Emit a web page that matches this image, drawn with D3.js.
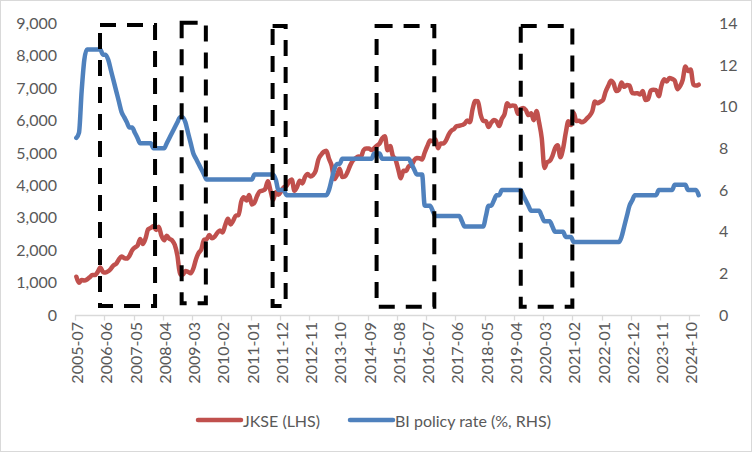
<!DOCTYPE html>
<html>
<head>
<meta charset="utf-8">
<script src="https://cdn.jsdelivr.net/npm/d3@7"></script>
<style>
  html, body { margin: 0; padding: 0; background: #fff; }
  svg { display: block; font-family: Lato, "Open Sans", sans-serif; }
</style>
</head>
<body>
<svg id="chart" width="752" height="452"></svg>
<script>
// ---------------- DATA ----------------
const startMonth = "2005-07";
const monthCount = 235; // 2005-07 .. 2025-01

const jkse2005 = [1182, 994, 1079, 1066, 1097, 1163];
const jkse2006 = [1232, 1231, 1323, 1465, 1330, 1310, 1351, 1431, 1534, 1582, 1718, 1806];
const jkse2007 = [1758, 1741, 1830, 1999, 2084, 2139, 2349, 2194, 2359, 2643, 2688, 2746];
const jkse2008 = [2627, 2721, 2447, 2305, 2444, 2350, 2304, 2166, 1833, 1257, 1242, 1355];
const jkse2009 = [1333, 1285, 1434, 1723, 1917, 2027, 2323, 2342, 2468, 2368, 2416, 2534];
const jkse2010 = [2611, 2549, 2778, 2971, 2797, 2914, 3069, 3082, 3501, 3635, 3531, 3704];
const jkse2011 = [3410, 3471, 3679, 3820, 3837, 3889, 4131, 3842, 3549, 3791, 3715, 3822];
const jkse2012 = [3942, 3985, 4122, 4181, 3833, 3956, 4143, 4060, 4263, 4350, 4276, 4317];
const jkse2013 = [4454, 4796, 4941, 5034, 5069, 4819, 4610, 4195, 4316, 4511, 4256, 4274];
const jkse2014 = [4419, 4620, 4768, 4840, 4894, 4879, 5089, 5137, 5138, 5089, 5150, 5227];
const jkse2015 = [5289, 5450, 5519, 5086, 5216, 4911, 4803, 4510, 4224, 4455, 4446, 4593];
const jkse2016 = [4615, 4771, 4845, 4839, 4797, 5017, 5216, 5386, 5365, 5423, 5149, 5297];
const jkse2017 = [5294, 5387, 5568, 5685, 5738, 5830, 5841, 5864, 5901, 6006, 5952, 6356];
const jkse2018 = [6606, 6597, 6189, 5995, 5984, 5799, 5936, 6018, 5977, 5832, 6056, 6194];
const jkse2019 = [6533, 6443, 6469, 6455, 6209, 6359, 6391, 6328, 6169, 6228, 6012, 6300];
const jkse2020 = [5940, 5453, 4539, 4716, 4754, 4905, 5150, 5238, 4870, 5128, 5612, 5979];
const jkse2021 = [5862, 6242, 5986, 5996, 5947, 5985, 6070, 6150, 6287, 6592, 6534, 6581];
const jkse2022 = [6631, 6888, 7071, 7229, 7149, 6912, 6951, 7179, 7041, 7099, 7081, 6851];
const jkse2023 = [6839, 6843, 6805, 6916, 6633, 6662, 6931, 6953, 6940, 6752, 7081, 7273];
const jkse2024 = [7208, 7316, 7288, 7234, 6971, 7064, 7256, 7671, 7528, 7575, 7114, 7080];
const jkse2025 = [7109];

const bi2005 = [8.5, 8.75, 10.75, 12.25, 12.75, 12.75];
const bi2006 = [12.75, 12.75, 12.75, 12.75, 12.5, 12.5, 12.25, 11.75, 11.25, 10.75, 10.25, 9.75];
const bi2007 = [9.5, 9.25, 9.0, 9.0, 8.75, 8.5, 8.25, 8.25, 8.25, 8.25, 8.25, 8.0];
const bi2008 = [8.0, 8.0, 8.0, 8.0, 8.25, 8.5, 8.75, 9.0, 9.25, 9.5, 9.5, 9.25];
const bi2009 = [8.75, 8.25, 7.75, 7.5, 7.25, 7.0, 6.75, 6.5, 6.5, 6.5, 6.5, 6.5];
const bi2010 = [6.5, 6.5, 6.5, 6.5, 6.5, 6.5, 6.5, 6.5, 6.5, 6.5, 6.5, 6.5];
const bi2011 = [6.5, 6.75, 6.75, 6.75, 6.75, 6.75, 6.75, 6.75, 6.75, 6.5, 6.0, 6.0];
const bi2012 = [6.0, 5.75, 5.75, 5.75, 5.75, 5.75, 5.75, 5.75, 5.75, 5.75, 5.75, 5.75];
const bi2013 = [5.75, 5.75, 5.75, 5.75, 5.75, 6.0, 6.5, 7.0, 7.25, 7.25, 7.5, 7.5];
const bi2014 = [7.5, 7.5, 7.5, 7.5, 7.5, 7.5, 7.5, 7.5, 7.5, 7.5, 7.75, 7.75];
const bi2015 = [7.75, 7.5, 7.5, 7.5, 7.5, 7.5, 7.5, 7.5, 7.5, 7.5, 7.5, 7.5];
const bi2016 = [7.25, 7.0, 6.75, 6.75, 6.75, 5.25, 5.25, 5.25, 5.0, 4.75, 4.75, 4.75];
const bi2017 = [4.75, 4.75, 4.75, 4.75, 4.75, 4.75, 4.75, 4.5, 4.25, 4.25, 4.25, 4.25];
const bi2018 = [4.25, 4.25, 4.25, 4.25, 4.75, 5.25, 5.25, 5.5, 5.75, 5.75, 6.0, 6.0];
const bi2019 = [6.0, 6.0, 6.0, 6.0, 6.0, 6.0, 5.75, 5.5, 5.25, 5.0, 5.0, 5.0];
const bi2020 = [5.0, 4.75, 4.5, 4.5, 4.5, 4.25, 4.0, 4.0, 4.0, 4.0, 3.75, 3.75];
const bi2021 = [3.75, 3.5, 3.5, 3.5, 3.5, 3.5, 3.5, 3.5, 3.5, 3.5, 3.5, 3.5];
const bi2022 = [3.5, 3.5, 3.5, 3.5, 3.5, 3.5, 3.5, 3.75, 4.25, 4.75, 5.25, 5.5];
const bi2023 = [5.75, 5.75, 5.75, 5.75, 5.75, 5.75, 5.75, 5.75, 5.75, 6.0, 6.0, 6.0];
const bi2024 = [6.0, 6.0, 6.0, 6.25, 6.25, 6.25, 6.25, 6.25, 6.0, 6.0, 6.0, 6.0];
const bi2025 = [5.75];

const tickLabels = ["2005-07","2006-06","2007-05","2008-04","2009-03","2010-02","2011-01",
  "2011-12","2012-11","2013-10","2014-09","2015-08","2016-07","2017-06","2018-05","2019-04",
  "2020-03","2021-02","2022-01","2022-12","2023-11","2024-10"];
const leftTicks = [0, 1000, 2000, 3000, 4000, 5000, 6000, 7000, 8000, 9000];
const rightTicks = [0, 2, 4, 6, 8, 10, 12, 14];
const seriesNames = ["JKSE (LHS)", "BI policy rate (%, RHS)"];

// highlighted periods (month index from start, JKSE-axis value range)
const boxStart = [8.9, 39.6, 73.8, 112.9, 167.1];
const boxEnd   = [29.6, 48.7, 78.7, 134.6, 186.5];
const boxTop   = [8950, 9020, 8920, 8920, 8920];
const boxBottom= [280, 360, 280, 255, 255];

// ---------------- BUILD ----------------
const jkse = [].concat(jkse2005, jkse2006, jkse2007, jkse2008, jkse2009, jkse2010, jkse2011,
  jkse2012, jkse2013, jkse2014, jkse2015, jkse2016, jkse2017, jkse2018, jkse2019, jkse2020,
  jkse2021, jkse2022, jkse2023, jkse2024, jkse2025);
const bi = [].concat(bi2005, bi2006, bi2007, bi2008, bi2009, bi2010, bi2011, bi2012, bi2013,
  bi2014, bi2015, bi2016, bi2017, bi2018, bi2019, bi2020, bi2021, bi2022, bi2023, bi2024, bi2025);

const parse = d3.timeParse("%Y-%m");
const fmt = d3.timeFormat("%Y-%m");
const months = d3.timeMonth.range(parse(startMonth), d3.timeMonth.offset(parse(startMonth), monthCount)).map(fmt);

const svg = d3.select("#chart");
const W = 752, H = 452;
const plot = { left: 75, right: 700, top: 23.4, bottom: 315 };
const textColor = "#595959";
const red = "#C0504D", blue = "#4F81BD";

svg.append("rect").attr("x", 0.5).attr("y", 0.5).attr("width", W - 1).attr("height", H - 1)
  .attr("fill", "#fff").attr("stroke", "#D9D9D9");

const n = months.length;
const x = d3.scaleLinear().domain([-0.5, n - 0.5]).range([plot.left, plot.right]);
const yL = d3.scaleLinear().domain([0, 9000]).range([plot.bottom, plot.top]);
const yR = d3.scaleLinear().domain([0, 14]).range([plot.bottom, plot.top]);

// left axis labels
const leftAxis = d3.axisLeft(yL).tickValues(leftTicks).tickSize(0).tickPadding(0)
  .tickFormat(d3.format(","));
svg.append("g").attr("transform", `translate(57,0)`).call(leftAxis)
  .call(g => g.select(".domain").remove())
  .selectAll("text").attr("fill", textColor).attr("font-size", 16)
  .attr("font-family", "Lato, sans-serif");

// right axis labels
const rightAxis = d3.axisRight(yR).tickValues(rightTicks).tickSize(0).tickPadding(0);
svg.append("g").attr("transform", `translate(719,0)`).call(rightAxis)
  .call(g => g.select(".domain").remove())
  .selectAll("text").attr("fill", textColor).attr("font-size", 16)
  .attr("font-family", "Lato, sans-serif");

// bottom axis
const tickIdx = tickLabels.map(l => months.indexOf(l));
const xg = svg.append("g");
xg.append("line").attr("x1", x(-0.5)).attr("x2", x(n - 0.5))
  .attr("y1", plot.bottom + 0.5).attr("y2", plot.bottom + 0.5)
  .attr("stroke", "#D9D9D9").attr("stroke-width", 1.3);
xg.selectAll("line.tick").data(tickIdx).join("line").attr("class", "tick")
  .attr("x1", d => Math.round(x(d - 0.5)) + 0.5).attr("x2", d => Math.round(x(d - 0.5)) + 0.5)
  .attr("y1", plot.bottom).attr("y2", plot.bottom + 5.5)
  .attr("stroke", "#D9D9D9").attr("stroke-width", 1.3);
xg.selectAll("text").data(tickIdx).join("text")
  .attr("transform", d => `translate(${x(d - 0.5) + 1.5},322) rotate(-90)`)
  .attr("text-anchor", "end").attr("dominant-baseline", "central")
  .attr("fill", textColor).attr("font-size", 16)
  .text(d => months[d]);

// lines
const lineL = d3.line().x((d, i) => x(i)).y(d => yL(d)).curve(d3.curveMonotoneX);
const lineR = d3.line().x((d, i) => x(i)).y(d => yR(d)).curve(d3.curveMonotoneX);
svg.append("path").datum(jkse).attr("d", lineL).attr("fill", "none")
  .attr("stroke", red).attr("stroke-width", 4.5).attr("stroke-linejoin", "round").attr("stroke-linecap", "round");
svg.append("path").datum(bi).attr("d", lineR).attr("fill", "none")
  .attr("stroke", blue).attr("stroke-width", 4.5).attr("stroke-linejoin", "round").attr("stroke-linecap", "round");

// dashed boxes
const boxes = boxStart.map((s, i) => ({ s, e: boxEnd[i], t: boxTop[i], b: boxBottom[i] }));
svg.selectAll("rect.box").data(boxes).join("rect").attr("class", "box")
  .attr("x", d => x(d.s)).attr("y", d => yL(d.t))
  .attr("width", d => x(d.e) - x(d.s)).attr("height", d => yL(d.b) - yL(d.t))
  .attr("fill", "none").attr("stroke", "#000").attr("stroke-width", 4)
  .attr("stroke-dasharray", "16 11");

// legend
const legend = svg.append("g");
const legItems = [
  { name: seriesNames[0], color: red, x: 198 },
  { name: seriesNames[1], color: blue, x: 350 }
];
legItems.forEach(it => {
  legend.append("line").attr("x1", it.x).attr("x2", it.x + 43).attr("y1", 420).attr("y2", 420)
    .attr("stroke", it.color).attr("stroke-width", 4.5).attr("stroke-linecap", "round");
  legend.append("text").attr("x", it.x + 45).attr("y", 420).attr("dominant-baseline", "central")
    .attr("fill", textColor).attr("font-size", 16).text(it.name);
});
</script>
</body>
</html>
